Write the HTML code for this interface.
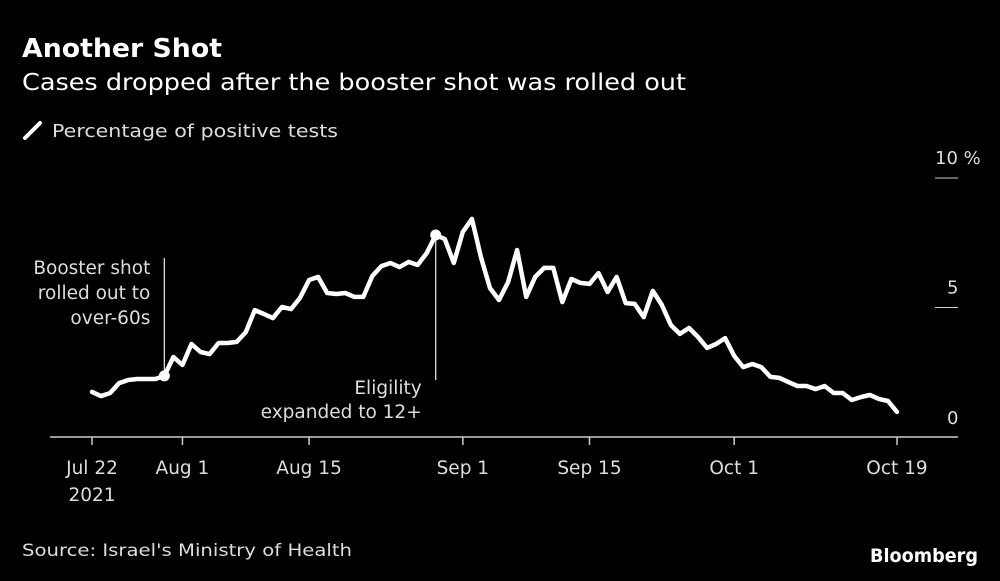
<!DOCTYPE html>
<html><head><meta charset="utf-8"><style>
body{margin:0;background:#000;width:1000px;height:577px;overflow:hidden;font-family:"DejaVu Sans",sans-serif;color:#fff}
</style></head><body>
<svg width="1000" height="577" viewBox="0 0 1000 577" xmlns="http://www.w3.org/2000/svg" font-family="DejaVu Sans, sans-serif">
<rect width="1000" height="577" fill="#000"/>
<text x="22" y="57" font-size="26" font-weight="bold" fill="#fff" textLength="200" lengthAdjust="spacingAndGlyphs">Another Shot</text>
<text x="22" y="90" font-size="23" fill="#fff" textLength="664" lengthAdjust="spacingAndGlyphs">Cases dropped after the booster shot was rolled out</text>
<g>
<line x1="25" y1="138" x2="40" y2="123" stroke="#fff" stroke-width="4" stroke-linecap="round"/>
<text x="52" y="137" font-size="18" fill="#ddd" textLength="286" lengthAdjust="spacingAndGlyphs">Percentage of positive tests</text>
</g>
<g id="yaxis"></g>
<g id="xaxis"></g>
<g id="annots"></g>
<g id="plot"></g>
<text x="22" y="556" font-size="17" fill="#ddd" textLength="330" lengthAdjust="spacingAndGlyphs">Source: Israel's Ministry of Health</text>
<text x="978" y="562" font-size="19" font-weight="bold" fill="#fff" text-anchor="end" textLength="108" lengthAdjust="spacingAndGlyphs">Bloomberg</text>
</svg>
<script>
const startDate = "2021-07-22";
const positivity = [1.74,1.58,1.70,2.08,2.20,2.24,2.24,2.24,2.36,3.09,2.78,
3.59,3.28,3.20,3.63,3.63,3.67,4.05,4.90,4.75,4.59,5.02,4.94,5.37,6.06,
6.18,5.56,5.52,5.56,5.41,5.41,6.22,6.60,6.72,6.56,6.76,6.64,7.10,7.80,7.64,6.72,7.92,
8.42,6.95,5.75,5.29,5.98,7.22,5.41,6.18,6.53,6.53,5.21,6.10,5.95,5.91,
6.33,5.60,6.18,5.17,5.14,4.63,5.64,5.10,4.32,3.98,4.21,3.86,3.44,3.59,3.82,3.13,
2.70,2.82,2.70,2.32,2.28,2.12,1.97,1.97,1.85,1.97,1.70,1.70,1.43,1.54,1.62,1.47,1.39,0.97];
const yTicks = [0,5,10];
const yTickLabels = ["0","5","10 %"];
const xTickDays = [0,10,24,41,55,71,89];
const xTickLabels = ["Jul 22","Aug 1","Aug 15","Sep 1","Sep 15","Oct 1","Oct 19"];
const annotDays = [8,38];
const annotTexts = [["Booster shot","rolled out to","over-60s"],["Eligility","expanded to 12+"]];

const NS="http://www.w3.org/2000/svg";
function X(d){return 92+d*(897-92)/89;}
function Y(v){return 437-v*25.9;}
function mk(tag,attrs,parent,txt){const e=document.createElementNS(NS,tag);for(const k in attrs)e.setAttribute(k,attrs[k]);if(txt!==undefined)e.textContent=txt;parent.appendChild(e);return e;}
const ya=document.getElementById('yaxis'),xa=document.getElementById('xaxis'),an=document.getElementById('annots'),pl=document.getElementById('plot');
yTicks.forEach((t,i)=>{
  if(t>0){const l=mk('line',{x1:935,x2:958,y1:Y(t),y2:Y(t),stroke:'#ccc','stroke-width':1},ya);
  
  }
  const tx=mk('text',{x:t===10?935:947,y:t===0?424:Y(t)-14,'font-size':18,fill:'#ddd'},ya,yTickLabels[i]);
  
  
});
const ax=mk('line',{x1:50,x2:958,y1:437,y2:437,stroke:'#ccc','stroke-width':1.5},xa);


xTickDays.forEach((d,i)=>{
  const l=mk('line',{x1:X(d),x2:X(d),y1:437,y2:445,stroke:'#ccc','stroke-width':1.5},xa);
  
  
  const t=mk('text',{x:X(d),y:474,'font-size':18.5,fill:'#ddd','text-anchor':'middle'},xa,xTickLabels[i]);
  
  
});
const yr=mk('text',{x:X(0),y:501,'font-size':18.5,fill:'#ddd','text-anchor':'middle'},xa,"2021");


const tops=[258,235],bots=[376,380],textY=[[274,299,324],[394,418]];
annotDays.forEach((d,i)=>{
  const l=mk('line',{x1:X(d),x2:X(d),y1:i===0?tops[i]:Y(positivity[d]),y2:bots[i],stroke:'#ddd','stroke-width':1.3},an);
  
  
  annotTexts[i].forEach((s,j)=>{
    const t=mk('text',{x:X(d)-14,y:textY[i][j],'font-size':18.5,fill:'#ddd','text-anchor':'end'},an,s);
    
    
  });
});
const pts=positivity.map((v,i)=>X(i).toFixed(1)+","+Y(v).toFixed(1)).join(" ");
const line=mk('polyline',{points:pts,fill:'none',stroke:'#fff','stroke-width':4.5,'stroke-linejoin':'round','stroke-linecap':'round'},pl);


annotDays.forEach(d=>{
  const c=mk('circle',{cx:X(d),cy:Y(positivity[d]),r:5.5,fill:'#fff'},pl);
  
  
});
</script>
</body></html>
